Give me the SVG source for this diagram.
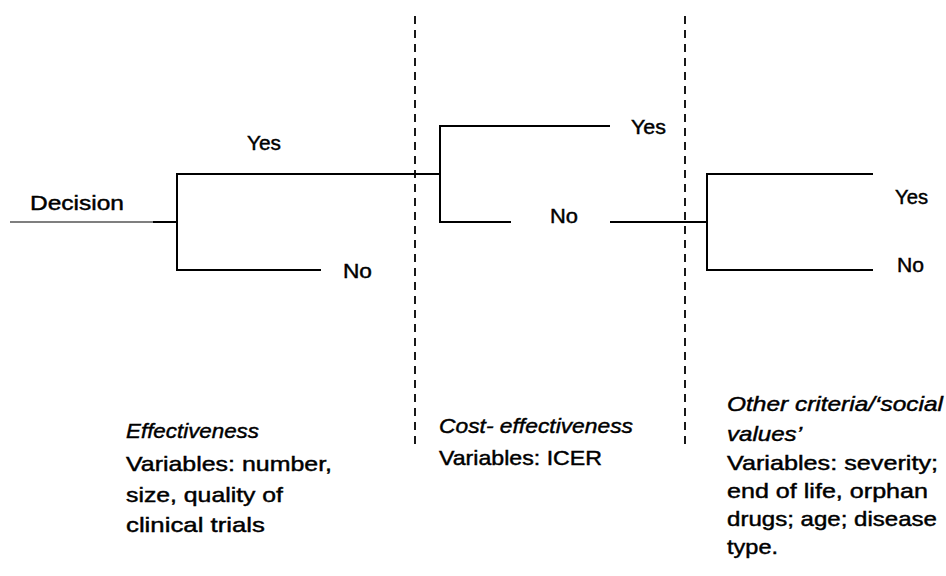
<svg xmlns="http://www.w3.org/2000/svg" width="946" height="576" viewBox="0 0 946 576">
<style>
.t{font-family:"Liberation Sans",Arial,sans-serif;font-size:21px;fill:#000;stroke:#000;stroke-width:0.45px}
.i{font-style:italic}
.ln{stroke:#000;stroke-width:2;fill:none;stroke-linecap:butt}
.thin{stroke:#000;stroke-width:1.2;fill:none}
.dash{stroke:#000;stroke-width:1.8;fill:none;stroke-dasharray:8 6}
</style>
<rect width="946" height="576" fill="#fff"/>
<g id="separators">
<line class="dash" x1="415" y1="16" x2="415" y2="444"/>
<line class="dash" x1="685" y1="16" x2="685" y2="444"/>
</g>
<g id="connectors">
<line class="thin" x1="10" y1="222" x2="154" y2="222"/>
<line class="ln" x1="153" y1="222" x2="177" y2="222"/>
<polyline class="ln" points="440,174 177,174 177,270 321,270"/>
<polyline class="ln" points="610,126 440,126 440,222 511,222"/>
<line class="ln" x1="610" y1="222" x2="707" y2="222"/>
<polyline class="ln" points="873,174 707,174 707,270 873,270"/>
</g>
<g id="decision"><text class="t" x="30" y="210" textLength="94" lengthAdjust="spacingAndGlyphs">Decision</text></g>
<g id="yes1"><text class="t" x="247" y="150" textLength="34" lengthAdjust="spacingAndGlyphs">Yes</text></g>
<g id="no1"><text class="t" x="343" y="278" textLength="29" lengthAdjust="spacingAndGlyphs">No</text></g>
<g id="yes2"><text class="t" x="631" y="134" textLength="35" lengthAdjust="spacingAndGlyphs">Yes</text></g>
<g id="no2"><text class="t" x="550" y="223" textLength="28" lengthAdjust="spacingAndGlyphs">No</text></g>
<g id="yes3"><text class="t" x="895" y="204" textLength="33" lengthAdjust="spacingAndGlyphs">Yes</text></g>
<g id="no3"><text class="t" x="897" y="272" textLength="27" lengthAdjust="spacingAndGlyphs">No</text></g>
<g id="effectiveness">
<text class="t i" x="126" y="438" textLength="133" lengthAdjust="spacingAndGlyphs">Effectiveness</text>
<text class="t" x="126" y="471" textLength="206" lengthAdjust="spacingAndGlyphs">Variables: number,</text>
<text class="t" x="126" y="502" textLength="157" lengthAdjust="spacingAndGlyphs">size, quality of</text>
<text class="t" x="126" y="532" textLength="139" lengthAdjust="spacingAndGlyphs">clinical trials</text>
</g>
<g id="cost-effectiveness">
<text class="t i" x="439" y="433" textLength="194" lengthAdjust="spacingAndGlyphs">Cost- effectiveness</text>
<text class="t" x="439" y="465" textLength="163" lengthAdjust="spacingAndGlyphs">Variables: ICER</text>
</g>
<g id="other-criteria">
<text class="t i" x="727" y="411" textLength="216" lengthAdjust="spacingAndGlyphs">Other criteria/‘social</text>
<text class="t i" x="727" y="441" textLength="75" lengthAdjust="spacingAndGlyphs">values’</text>
<text class="t" x="727" y="470" textLength="211" lengthAdjust="spacingAndGlyphs">Variables: severity;</text>
<text class="t" x="727" y="498" textLength="201" lengthAdjust="spacingAndGlyphs">end of life, orphan</text>
<text class="t" x="727" y="526" textLength="210" lengthAdjust="spacingAndGlyphs">drugs; age; disease</text>
<text class="t" x="727" y="554" textLength="51" lengthAdjust="spacingAndGlyphs">type.</text>
</g>
</svg>
